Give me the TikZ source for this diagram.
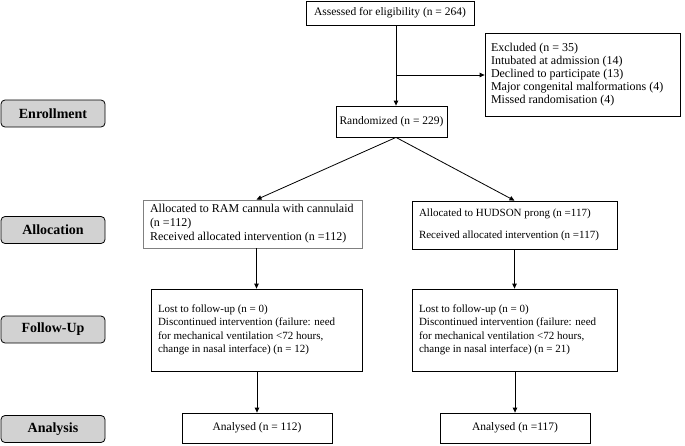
\documentclass[tikz,border=0pt]{standalone}
\usepackage{fontspec}
\setmainfont{Liberation Serif}
\usetikzlibrary{arrows.meta}

\begin{document}
\begin{tikzpicture}[x=1pt, y=-1pt, line width=0.8pt,
    >={Triangle[length=5pt,width=4.5pt]},
    flowbox/.style ={draw, fill=white, inner sep=0pt,
      font=\fontsize{11.5}{13.5}\selectfont},
    textbox/.style ={flowbox, align=flush left, inner xsep=7pt,
      font=\fontsize{11}{13.5}\selectfont},
    stage/.style ={draw, rounded corners=4pt, fill=gray!35,
      minimum width=104pt, minimum height=27pt,
      font=\fontsize{14}{16}\selectfont\bfseries}]
   \useasboundingbox (0,0) rectangle (685,445);
   % phase labels
   \node[stage] (enroll) at (53,113.5) {Enrollment};
   \node[stage] (alloc) at (53,230) {Allocation};
   \node[stage] (follow) at (53,329.5) {Follow-Up};
   \node[stage] (analysis) at (53,429) {Analysis};
   % enrolment
   \node[flowbox, minimum width=168pt, minimum height=24pt] (assess) at (390,13)
      {Assessed for eligibility (n = 264)};
   \node[textbox, text width=183pt, inner xsep=6pt, minimum height=83pt,
      font=\fontsize{12}{13}\selectfont] (excl) at (582.5,74.5)
      {Excluded (n = 35)\\ Intubated at admission (14)\\ Declined to participate (13)\\
       Major congenital malformations (4)\\ Missed randomisation (4)};
   \node[flowbox, minimum width=111pt, minimum height=31pt] (rand) at (391.5,121.5)
      {Randomized (n = 229)};
   \coordinate (split) at (396,75);
   % allocation
   \node[textbox, draw=gray, text width=205pt, minimum height=48pt,
      font=\fontsize{12}{14}\selectfont] (allocL) at (252.5,224)
      {Allocated to RAM cannula with cannulaid\\ (n =112)\\ Received allocated intervention (n =112)};
   \node[textbox, text width=191pt, minimum height=48pt] (allocR) at (514.5,225)
      {Allocated to HUDSON prong (n =117)\\[8pt] Received allocated intervention (n =117)};
   % follow-up
   \node[textbox, text width=197pt, minimum height=82pt] (fuL) at (256.5,330)
      {Lost to follow-up (n = 0)\\ Discontinued intervention (failure: need\\
       for mechanical ventilation <72 hours,\\ change in nasal interface) (n = 12)};
   \node[textbox, text width=191pt, minimum height=82pt] (fuR) at (514.5,330)
      {Lost to follow-up (n = 0)\\ Discontinued intervention (failure: need\\
       for mechanical ventilation <72 hours,\\ change in nasal interface) (n = 21)};
   % analysis
   \node[flowbox, minimum width=150pt, minimum height=30pt] (anL) at (257,428)
      {Analysed (n = 112)};
   \node[flowbox, minimum width=150pt, minimum height=30pt] (anR) at (515,428)
      {Analysed (n =117)};
   % connectors
   \draw[->] (assess.south -| split) -- (rand.north -| split);
   \draw[->] (split) -- (excl.west |- split);
   \draw[->] (rand.south -| split) -- (allocL.north -| fuL.north);
   \draw[->] (rand.south -| split) -- (allocR.north);
   \draw[->] (allocL.south -| fuL.north) -- (fuL.north);
   \draw[->] (allocR.south -| fuR.north) -- (fuR.north);
   \draw[->] (fuL.south -| anL.north) -- (anL.north);
   \draw[->] (fuR.south -| anR.north) -- (anR.north);
 \end{tikzpicture}
\end{document}
